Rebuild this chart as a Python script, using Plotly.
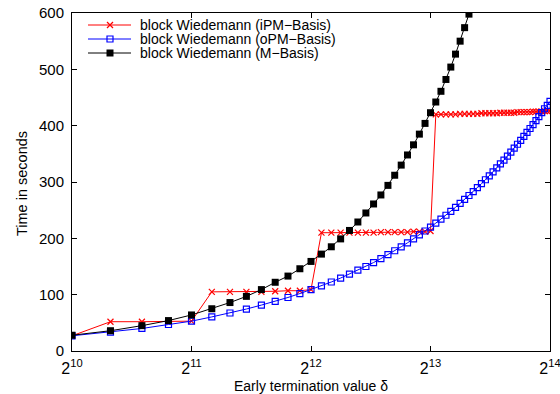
import math
import plotly.graph_objects as go

# Early termination values (delta), step 256
delta_blue = [1024 + 256 * k for k in range(61)]
blue_vals = [27, 33.5, 40, 47, 53, 60.5, 67.5, 74.5, 81.5, 88, 95, 102, 109, 115.5, 122.5,
             129.5, 136.5, 143.5, 150, 157, 164, 171, 178, 185, 192, 199, 206, 213, 220,
             227, 234, 241, 248, 255, 262, 269, 276, 283, 290, 297, 304, 311, 318, 325,
             332, 339, 346, 353, 360, 367, 374, 381, 388, 395, 402, 409, 416, 423, 430,
             436, 443]

delta_black = [1024 + 256 * k for k in range(38)]
black_vals = [28, 36, 45, 54, 64, 75, 86, 97, 109, 122, 133, 146, 159, 172, 185, 199, 214,
              229, 245, 261, 277, 294, 312, 330, 348, 366, 385, 404, 423, 442, 461, 482,
              504, 527, 550, 574, 598, 622]

delta_red = [1024 + 256 * k for k in range(61)]
red_vals = ([27, 52, 52, 52, 53] +
            [105, 105, 105, 105, 106, 107, 107, 109] +
            [210, 210, 210, 210, 210, 210, 210, 211, 211, 211, 211, 211, 212, 212, 212, 213] +
            [420, 420, 420, 420, 420, 421, 421, 421, 421, 421, 422, 422, 422, 422, 422, 423,
             423, 423, 423, 423, 424, 424, 424, 424, 424, 425, 425, 425, 425, 426, 426, 426])

series_names = ["block Wiedemann (iPM\u2212Basis)",
                "block Wiedemann (oPM\u2212Basis)",
                "block Wiedemann (M\u2212Basis)"]
series_colors = ["#ff0000", "#0000ff", "#000000"]

tick_vals = [1024, 2048, 4096, 8192, 16384]
tick_text = ["2<sup>10</sup>", "2<sup>11</sup>", "2<sup>12</sup>", "2<sup>13</sup>", "2<sup>14</sup>"]
y_ticks = [0, 100, 200, 300, 400, 500, 600]

FONT = "Liberation Sans, Arial, Helvetica, sans-serif"
W, H = 560, 394
ML, MR, MT, MB = 72, 10, 13, 43
PW, PH = W - ML - MR, H - MT - MB


def px(xp):
    return (xp - ML) / PW


def py(yp):
    return (H - MB - yp) / PH


fig = go.Figure()
fig.add_trace(go.Scatter(
    x=delta_red, y=red_vals, mode="lines+markers", name=series_names[0], showlegend=False,
    line=dict(color=series_colors[0], width=1),
    marker=dict(symbol="x-thin-open", size=6, line=dict(color=series_colors[0], width=1.2)),
))
fig.add_trace(go.Scatter(
    x=delta_blue, y=blue_vals, mode="lines+markers", name=series_names[1], showlegend=False,
    line=dict(color=series_colors[1], width=1),
    marker=dict(symbol="square-open", size=6, line=dict(color=series_colors[1], width=1.2)),
))
fig.add_trace(go.Scatter(
    x=delta_black, y=black_vals, mode="lines+markers", name=series_names[2], showlegend=False,
    line=dict(color=series_colors[2], width=1),
    marker=dict(symbol="square", size=7, color=series_colors[2]),
))

# custom legend (compact, gnuplot-like)
shapes = []
annotations = []
row_y = [25, 39, 53]
for i, (name, col) in enumerate(zip(series_names, series_colors)):
    yy = row_y[i]
    shapes.append(dict(type="line", xref="paper", yref="paper",
                       x0=px(88), x1=px(131), y0=py(yy), y1=py(yy),
                       line=dict(color=col, width=1)))
    cx = 110
    if i == 0:
        shapes.append(dict(type="line", xref="paper", yref="paper",
                           x0=px(cx - 3), x1=px(cx + 3), y0=py(yy - 3), y1=py(yy + 3),
                           line=dict(color=col, width=1.2)))
        shapes.append(dict(type="line", xref="paper", yref="paper",
                           x0=px(cx - 3), x1=px(cx + 3), y0=py(yy + 3), y1=py(yy - 3),
                           line=dict(color=col, width=1.2)))
    elif i == 1:
        shapes.append(dict(type="rect", xref="paper", yref="paper",
                           x0=px(cx - 3), x1=px(cx + 3), y0=py(yy - 3), y1=py(yy + 3),
                           line=dict(color=col, width=1.2), fillcolor="rgba(0,0,0,0)"))
    else:
        shapes.append(dict(type="rect", xref="paper", yref="paper",
                           x0=px(cx - 3.5), x1=px(cx + 3.5), y0=py(yy - 3.5), y1=py(yy + 3.5),
                           line=dict(color=col, width=0), fillcolor=col))
    annotations.append(dict(text=name, xref="paper", yref="paper", x=px(138), y=py(yy),
                            xanchor="left", yanchor="middle", showarrow=False,
                            font=dict(size=14, family=FONT, color="black")))

annotations.append(dict(text="Early termination value \u03b4", xref="paper", yref="paper",
                        x=0.5, y=py(386), xanchor="center", yanchor="middle", showarrow=False,
                        font=dict(size=14, family=FONT, color="black")))
annotations.append(dict(text="Time in seconds", xref="paper", yref="paper",
                        x=px(22), y=py(184), xanchor="center", yanchor="middle", showarrow=False,
                        textangle=-90, font=dict(size=14.5, family=FONT, color="black")))

x_lo = math.log10(tick_vals[0])
x_hi = math.log10(tick_vals[-1])
eps = 1e-6

fig.update_layout(
    width=W, height=H,
    margin=dict(l=ML, r=MR, t=MT, b=MB),
    paper_bgcolor="white", plot_bgcolor="white",
    font=dict(family=FONT, color="black", size=14),
    showlegend=False,
    shapes=shapes,
    annotations=annotations,
    xaxis=dict(
        type="log", range=[x_lo - eps, x_hi + eps],
        tickmode="array", tickvals=tick_vals, ticktext=tick_text,
        ticks="inside", ticklen=5, tickcolor="black",
        showline=True, linecolor="black", linewidth=1, mirror="ticks",
        showgrid=False, zeroline=False, automargin=False,
        ticklabeloverflow="allow", ticklabelstandoff=3,
        tickfont=dict(size=16, family=FONT),
    ),
    yaxis=dict(
        range=[0, 600], tickvals=y_ticks,
        ticks="inside", ticklen=5, tickcolor="black",
        showline=True, linecolor="black", linewidth=1, mirror="ticks",
        showgrid=False, zeroline=False, automargin=False,
        tickfont=dict(size=15, family=FONT), ticklabelstandoff=4,
    ),
)

fig.write_html("out.html")
